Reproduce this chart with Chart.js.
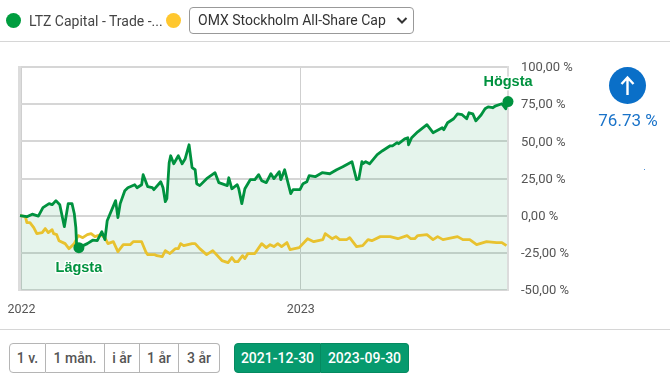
<!DOCTYPE html>
<html><head><meta charset="utf-8">
<script src="https://cdn.jsdelivr.net/npm/chart.js@4"></script>
<style>
html,body{margin:0;padding:0;background:#fff;width:670px;height:385px;overflow:hidden;font-family:Roboto,sans-serif}
#c{position:absolute;left:0;top:0}
.a{position:absolute}
.dot{width:15px;height:15px;border-radius:50%}
.sel{left:189px;top:7px;width:223px;height:25px;border:1px solid #999;border-radius:4px;font-size:14px;line-height:25px;color:#333;box-sizing:content-box}
.sel span{position:absolute;left:8px;top:0;white-space:nowrap}
.hr{left:0;width:670px;height:1px;background:#d6d6d6}
.grp{top:343px;height:30px;display:flex;box-sizing:border-box}
.b{box-sizing:border-box;height:30px;line-height:28px;text-align:center;font-size:14px;font-weight:500;white-space:nowrap}
.w{border:1px solid #b5b5b5;border-left:none;color:#555;background:#fff}
.g{background:#069a6e;color:#fff;border:1px solid #058a60;font-weight:500}
</style></head><body>
<canvas id="c" width="670" height="385"></canvas>
<div class="a dot" style="left:6px;top:13px;background:#009d3f"></div>
<div class="a" style="left:29px;top:12px;font-size:14px;line-height:18px;color:#444;white-space:nowrap">LTZ Capital - Trade -...</div>
<div class="a dot" style="left:166px;top:13px;background:#ffc72e"></div>
<div class="a sel"><span>OMX Stockholm All-Share Cap</span>
<svg class="a" style="left:206px;top:8px" width="12" height="9" viewBox="0 0 12 9"><path d="M1.5 2 L6 6.5 L10.5 2" fill="none" stroke="#333" stroke-width="2"/></svg></div>
<div class="a hr" style="top:41px"></div>
<div class="a hr" style="top:329px"></div>
<div class="a" style="left:609px;top:67px;width:37px;height:37px;border-radius:50%;background:#0a6fc8"></div>
<svg class="a" style="left:609px;top:67px" width="37" height="37" viewBox="0 0 37 37"><path d="M18.5 28 V11 M12.5 17 L18.5 10.5 L24.5 17" fill="none" stroke="#fff" stroke-width="2.4"/></svg>
<div class="a" style="left:578px;top:109px;width:100px;text-align:center;font-size:17px;line-height:22px;color:#1a73c9">76.73 %</div>
<div class="a" style="left:644px;top:169px;width:1px;height:1px;background:#4a90d9"></div>
<div class="a grp" style="left:9px">
<div class="b w" style="width:37px;border-left:1px solid #b5b5b5;border-radius:4px 0 0 4px">1 v.</div>
<div class="b w" style="width:59px">1 mån.</div>
<div class="b w" style="width:35px">i år</div>
<div class="b w" style="width:39px">1 år</div>
<div class="b w" style="width:41px;border-radius:0 4px 4px 0">3 år</div>
</div>
<div class="a grp" style="left:234px">
<div class="b g" style="width:87px;border-radius:4px 0 0 4px">2021-12-30</div>
<div class="b g" style="width:88px;border-left:none;border-radius:0 4px 4px 0">2023-09-30</div>
</div>
<script>
const tickLabels = ['2022','2023'];
const tickDays = [2,367];
const yTicks = [100,75,50,25,0,-25,-50];
const ltzDays = [0,9,16,24,30,38,42,47,52,58,63,68,71,73,74,77,88,95,101,107,111,114,125,128,131,137,141,150,153,159,161,167,173,175,184,187,190,192,195,197,201,207,212,216,221,225,229,231,235,244,255,260,271,273,277,284,286,290,294,301,307,312,316,322,328,332,339,341,346,354,357,366,370,375,378,386,395,405,414,422,434,440,443,447,448,452,457,467,474,484,487,493,495,503,507,508,512,520,532,540,552,554,559,567,572,578,584,587,592,596,603,608,612,618,622,630,635,638];
const ltzValues = [0,-0.7,1,-0.3,5.4,8.1,7.4,10.1,7.4,-7.4,8.1,8.1,1.3,-8.1,-19.5,-21.5,-18.8,-16.5,-16.8,-10.8,-16.1,-3.4,10.1,-1.3,8.1,16.8,18.8,20.8,18.8,20.8,27.6,19.5,18.8,17.5,22.8,18.8,9.4,11.4,35.6,40.3,34.9,40.3,34.9,38.3,47.7,32.3,30.9,21.5,20.2,24.9,28.9,22.2,20.2,25.5,18.1,20.8,18.1,8.1,18.1,24.2,24.2,27.6,23.5,22.2,28.2,24.9,29.6,24.2,30.9,14.8,17.5,17.5,21.5,22.8,26.9,26.2,28.9,28.2,30.9,32.9,36.3,24.2,24.9,36.3,34.9,36.3,34.9,41,43.7,47,47,49.1,48.4,51.7,52.4,47.7,52.4,56.4,61.2,55.8,59.1,57.8,62.5,65.2,68.5,67.9,65.2,69.2,68.5,63.8,67.9,71.9,73.2,72.6,73.9,75.3,71.9,76.73];
const omxDays = [0,7,9,13,18,22,29,33,37,42,44,48,51,59,64,71,76,82,88,93,98,105,111,115,122,128,135,144,148,159,165,167,176,179,186,190,196,203,207,210,214,225,229,235,244,252,264,272,277,281,285,291,294,298,307,316,322,327,332,337,342,349,353,365,376,384,396,399,408,413,418,427,431,440,448,455,460,471,484,494,506,511,516,520,532,540,546,553,572,579,588,597,610,623,630,636];
const omxValues = [0,-0.7,-4.7,-4.7,-8.1,-12.1,-11.4,-8.7,-11.4,-9.4,-12.1,-12.8,-16.8,-18.8,-22.2,-18.8,-13.4,-14.8,-12.8,-12.1,-14.1,-12.8,-14.8,-18.8,-17.5,-24.2,-19.5,-19.5,-17.5,-17.5,-24.9,-26.2,-26.2,-26.9,-27.6,-23.5,-25.5,-22.2,-22.2,-18.8,-20.2,-18.8,-18.8,-22.2,-26.2,-23.5,-30.2,-31.6,-28.2,-30.9,-30.9,-26.9,-28.9,-25.5,-25.5,-18.8,-21.5,-19.5,-20.8,-18.8,-20.8,-18.1,-22.8,-21.5,-15.5,-17.5,-16.1,-12.1,-15.5,-14.1,-16.1,-16.1,-14.8,-20.8,-20.2,-16.1,-16.8,-14.1,-14.1,-15.5,-13.4,-15.5,-15.5,-13.4,-12.8,-16.1,-14.1,-16.1,-14.1,-16.1,-16.1,-19.5,-17.5,-18.1,-18.1,-20.2];
const pts = (d,v)=>d.map((x,i)=>({x,y:v[i]}));
const lowIdx = ltzValues.indexOf(Math.min(...ltzValues));
const highIdx = ltzValues.indexOf(Math.max(...ltzValues));
const GREEN='#00923f';
const frame={id:'frame',beforeDatasetsDraw(ch){const {ctx,chartArea:a}=ch;ctx.save();
 ctx.fillStyle='#dcdcdc';ctx.fillRect(a.left-2,a.top-1,3,a.bottom-a.top+2);
 ctx.fillRect(a.right-1,a.top-1,2,a.bottom-a.top+2);ctx.restore();}};
const notes={id:'notes',afterDatasetsDraw(ch){const {ctx,scales:{x,y}}=ch;ctx.save();
 ctx.font='bold 14.5px "Liberation Sans",Arial,sans-serif';ctx.textAlign='center';ctx.textBaseline='middle';ctx.lineJoin='round';
 const put=(t,i,dy)=>{const px=x.getPixelForValue(ltzDays[i]),py=y.getPixelForValue(ltzValues[i])+dy;
  ctx.strokeStyle='rgba(255,255,255,.9)';ctx.lineWidth=3;ctx.strokeText(t,px,py);ctx.fillStyle=GREEN;ctx.fillText(t,px,py);};
 put('Lägsta',lowIdx,20);put('Högsta',highIdx,-20);ctx.restore();}};
new Chart(document.getElementById('c'),{
 type:'line',
 data:{datasets:[
  {label:'LTZ Capital',data:pts(ltzDays,ltzValues),borderColor:GREEN,borderWidth:2.8,tension:0,fill:'start',backgroundColor:'rgba(0,146,69,0.10)',borderJoinStyle:'round',
   pointRadius:c=>(c.dataIndex===lowIdx||c.dataIndex===highIdx)?5.5:0,pointBackgroundColor:GREEN,pointBorderWidth:0,clip:false},
  {label:'OMX Stockholm All-Share Cap',data:pts(omxDays,omxValues),borderColor:'#e8c22f',borderWidth:2.8,tension:0,fill:false,pointRadius:0,borderJoinStyle:'round'}
 ]},
 options:{responsive:false,animation:false,
  layout:{padding:{left:20,top:67,right:0,bottom:60}},
  plugins:{legend:{display:false},tooltip:{enabled:false},filler:{drawTime:'beforeDatasetsDraw'}},
  scales:{
   x:{type:'linear',min:0,max:638,
    afterFit(s){s.height=35;s.paddingLeft=0;s.paddingRight=0},
    afterBuildTicks(s){s.ticks=tickDays.map(v=>({value:v}))},
    grid:{color:'#cfcfcf',lineWidth:1,drawTicks:false},border:{display:false},
    ticks:{autoSkip:false,maxRotation:0,padding:12,color:'#555',font:{family:'Roboto',size:12.5},callback:v=>tickLabels[tickDays.indexOf(v)]}},
   y:{position:'right',min:-50,max:100,
    afterFit(s){s.width=162;s.paddingTop=0;s.paddingBottom=0},
    afterBuildTicks(s){s.ticks=yTicks.map(v=>({value:v}))},
    grid:{color:'#d6d6d6',lineWidth:2,drawTicks:false},border:{display:false},
    ticks:{padding:13,labelOffset:1,color:'#555',align:'center',crossAlign:'near',font:{family:'Roboto',size:13},callback:v=>v.toFixed(2).replace('.',',')+' %'}}
  }},
 plugins:[frame,notes]
});
</script></body></html>
